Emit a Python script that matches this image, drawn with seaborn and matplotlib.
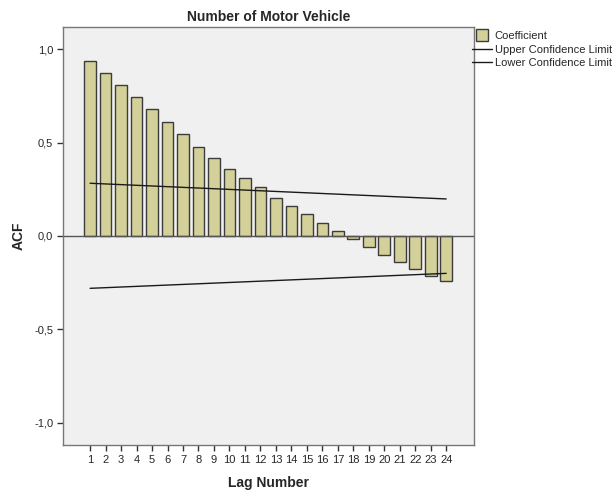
import numpy as np
import pandas as pd
import matplotlib
matplotlib.use('Agg')
import matplotlib.pyplot as plt
import seaborn as sns
from matplotlib.lines import Line2D

# ACF values
lags = list(range(1, 25))
acf = [0.936, 0.872, 0.807, 0.743, 0.679, 0.610, 0.545, 0.476, 0.417, 0.358,
       0.312, 0.260, 0.205, 0.160, 0.116, 0.071, 0.027, -0.018, -0.059, -0.100,
       -0.141, -0.178, -0.212, -0.241]

# confidence limits at first and last lag
limit_lags = [1, 24]
upper_limit = [0.282, 0.198]
lower_limit = [-0.280, -0.200]

y_ticks = [-1.0, -0.5, 0.0, 0.5, 1.0]
y_tick_labels = ['-1,0', '-0,5', '0,0', '0,5', '1,0']

sns.set_style('white')
plt.rcParams['font.family'] = ['Liberation Sans', 'DejaVu Sans']

df = pd.DataFrame({'lag': lags, 'acf': acf})

fig = plt.figure(figsize=(6.12, 4.93), dpi=100)
ax = fig.add_axes([0.103, 0.0974, 0.6716, 0.8479])
ax.set_facecolor('#f0f0f0')

sns.barplot(data=df, x='lag', y='acf', native_scale=True, width=0.75,
            color='#d4d099', edgecolor='#3c3c3c', linewidth=1.0,
            saturation=1, ax=ax)

sns.lineplot(x=limit_lags, y=upper_limit, color='#1a1a1a', linewidth=1.0, ax=ax)
sns.lineplot(x=limit_lags, y=lower_limit, color='#1a1a1a', linewidth=1.0, ax=ax)

ax.axhline(0, color='#555555', linewidth=1.0, zorder=1)

ax.set_xlim(-0.75, 25.8)
ax.set_ylim(-1.118, 1.118)
ax.set_xticks(lags)
ax.set_xticklabels([str(l) for l in lags], fontsize=8)
ax.set_yticks(y_ticks)
ax.set_yticklabels(y_tick_labels, fontsize=8)
ax.tick_params(axis='both', direction='out', length=4, width=1, color='#333333',
               bottom=True, left=True, pad=3)

for s in ax.spines.values():
    s.set_color('#777777')
    s.set_linewidth(1.0)

ax.set_xlabel('Lag Number', fontsize=10, fontweight='bold', labelpad=8)
ax.set_ylabel('ACF', fontsize=10, fontweight='bold')
ax.yaxis.set_label_coords(-0.092, 0.5)
ax.set_title('Number of Motor Vehicle', fontsize=10, fontweight='bold', pad=4)

handles = [Line2D([0], [0], marker='s', linestyle='none', markersize=8,
                  markerfacecolor='#d4d099', markeredgecolor='#3c3c3c',
                  label='Coefficient'),
           Line2D([0], [0], color='#1a1a1a', lw=1, label='Upper Confidence Limit'),
           Line2D([0], [0], color='#1a1a1a', lw=1, label='Lower Confidence Limit')]
fig.legend(handles=handles, loc='upper left', bbox_to_anchor=(0.771, 0.937),
           frameon=False, fontsize=8, handlelength=1.8, handletextpad=0.25,
           labelspacing=0.32, borderaxespad=0, borderpad=0)

fig.savefig('out.png', dpi=100, facecolor='white')
